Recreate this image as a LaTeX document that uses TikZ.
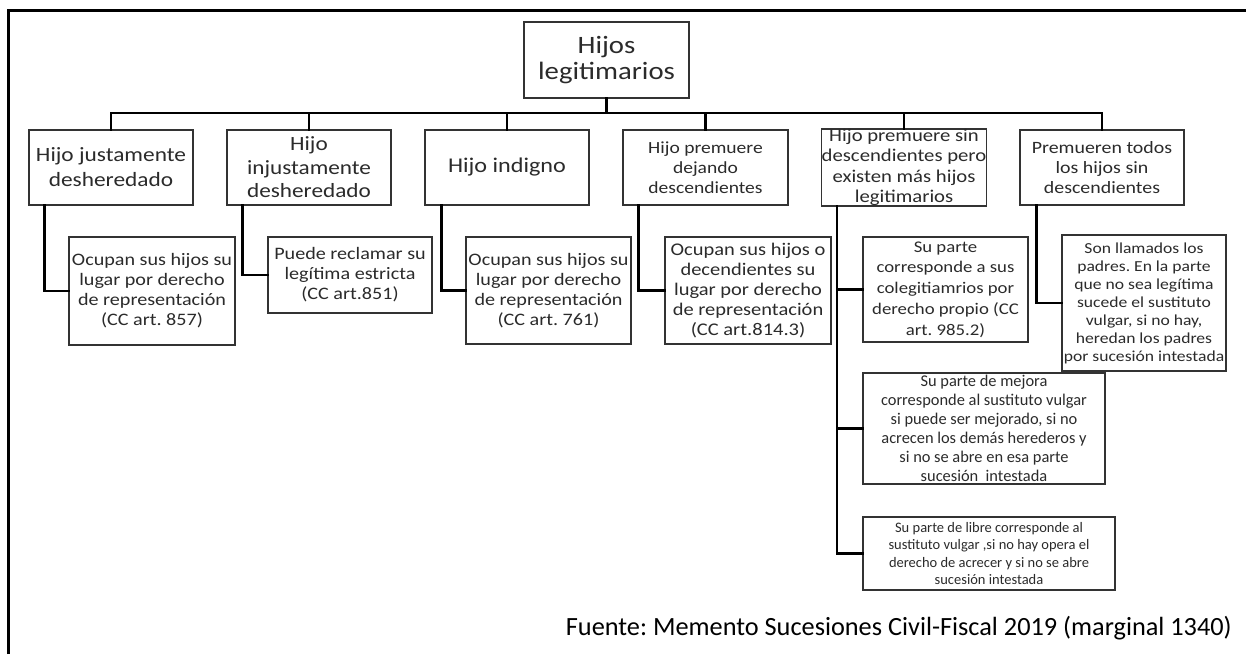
\documentclass[tikz,border=0pt]{standalone}
\usepackage{fontspec}
\setmainfont{Carlito}
\newfontfamily\bx[FakeStretch=1.15]{Carlito}
\definecolor{txt}{HTML}{2B2B2B}
\definecolor{brd}{HTML}{333333}
\tikzset{
  box/.style={draw=brd, line width=1.3pt, inner sep=0pt, align=center, text=txt},
  conn/.style={draw=black, line width=2.6pt, line cap=rect},
  frame/.style={draw=black, line width=3pt}
}
\frenchspacing
\begin{document}
\begin{tikzpicture}[x=1pt,y=-1pt]
\useasboundingbox (0,0) rectangle (1246,654);
\fill[white] (0,0) rectangle (1246,654);
% frame
\draw[frame] (8,654) -- (8,10) -- (1246,10);
% root
\node[box, minimum width=165, minimum height=76, font=\bx\fontsize{25}{26.5}\selectfont] (root) at (606.5,60) {Hijos\\legitimarios};
% level 1
\node[box, minimum width=164, minimum height=75, font=\bx\fontsize{20.3}{25}\selectfont] (a) at (111,167.5) {Hijo justamente\\desheredado};
\node[box, minimum width=164, minimum height=75, font=\bx\fontsize{20.2}{23.5}\selectfont] (b) at (309,167.5) {Hijo\\injustamente\\desheredado};
\node[box, minimum width=164, minimum height=75, font=\bx\fontsize{21}{25}\selectfont] (c) at (507,167.5) {Hijo indigno};
\node[box, minimum width=165, minimum height=75, font=\bx\fontsize{17}{20}\selectfont] (d) at (705.5,167.5) {Hijo premuere\\dejando\\descendientes};
\node[box, minimum width=164, minimum height=75, font=\bx\fontsize{18}{20.5}\selectfont] (e) at (904,167.5) {Hijo premuere sin\\descendientes pero\\existen más hijos\\legitimarios};
\node[box, minimum width=164, minimum height=75, font=\bx\fontsize{17.3}{20}\selectfont] (f) at (1102,167.5) {Premueren todos\\los hijos sin\\descendientes};
% level 2
\node[box, minimum width=166, minimum height=108, font=\bx\fontsize{17.5}{20}\selectfont] (a1) at (152,291) {Ocupan sus hijos su\\lugar por derecho\\de representación\\(CC art. 857)};
\node[box, minimum width=164, minimum height=76, font=\bx\fontsize{17.5}{20}\selectfont] (b1) at (350,275) {Puede reclamar su\\legítima estricta\\(CC art.851)};
\node[box, minimum width=165, minimum height=107, font=\bx\fontsize{17.5}{20}\selectfont] (c1) at (548.5,290.5) {Ocupan sus hijos su\\lugar por derecho\\de representación\\(CC art. 761)};
\node[box, minimum width=166, minimum height=107, font=\bx\fontsize{17.8}{20}\selectfont] (d1) at (748,290.5) {Ocupan sus hijos o\\decendientes su\\lugar por derecho\\de representación\\(CC art.814.3)};
\node[box, minimum width=165, minimum height=105, font=\bx\fontsize{16.3}{20.7}\selectfont] (e1) at (945.5,289.5) {Su parte\\corresponde a sus\\colegitiamrios por\\derecho propio (CC\\art. 985.2)};
\node[box, minimum width=242, minimum height=111, font=\fontsize{16.4}{19}\selectfont] (e2) at (984,428.5) {Su parte de mejora\\corresponde al sustituto vulgar\\si puede ser mejorado, si no\\acrecen los demás herederos y\\si no se abre en esa parte\\sucesión \ intestada};
\node[box, minimum width=252, minimum height=73, font=\fontsize{14.5}{17.5}\selectfont] (e3) at (989,553.5) {Su parte de libre corresponde al\\sustituto vulgar ,si no hay opera el\\derecho de acrecer y si no se abre\\sucesión intestada};
\node[box, minimum width=164, minimum height=136, font=\bx\fontsize{15.3}{18}\selectfont] (f1) at (1144,303) {Son llamados los\\padres. En la parte\\que no sea legítima\\sucede el sustituto\\vulgar, si no hay,\\heredan los padres\\por sucesión intestada};
% bus
\coordinate (bus) at (0,113);
\draw[conn] (root.south) -- (root.south |- bus);
\draw[conn] (a.north) |- (f.north |- bus) -- (f.north);
\foreach \n in {b,c,d,e} { \draw[conn] (\n.north) -- (\n.north |- bus); }
% level 2 connectors
\draw[conn] ([xshift=16pt]a.south west) |- (a1.west);
\draw[conn] ([xshift=16pt]b.south west) |- (b1.west);
\draw[conn] ([xshift=17pt]c.south west) |- (c1.west);
\draw[conn] ([xshift=16pt]d.south west) |- (d1.west);
\draw[conn] ([xshift=16pt]e.south west) |- (e1.west);
\draw[conn] ([xshift=16pt]e.south west) |- (e2.west);
\draw[conn] ([xshift=16pt]e.south west) |- (e3.west);
\draw[conn] ([xshift=17pt]f.south west) |- (f1.west);
% footer
\node[anchor=east, inner sep=0pt, font=\fontsize{26.3}{30}\selectfont] (src) at (1232,628) {Fuente: Memento Sucesiones Civil-Fiscal 2019 (marginal 1340)};
\end{tikzpicture}
\end{document}
